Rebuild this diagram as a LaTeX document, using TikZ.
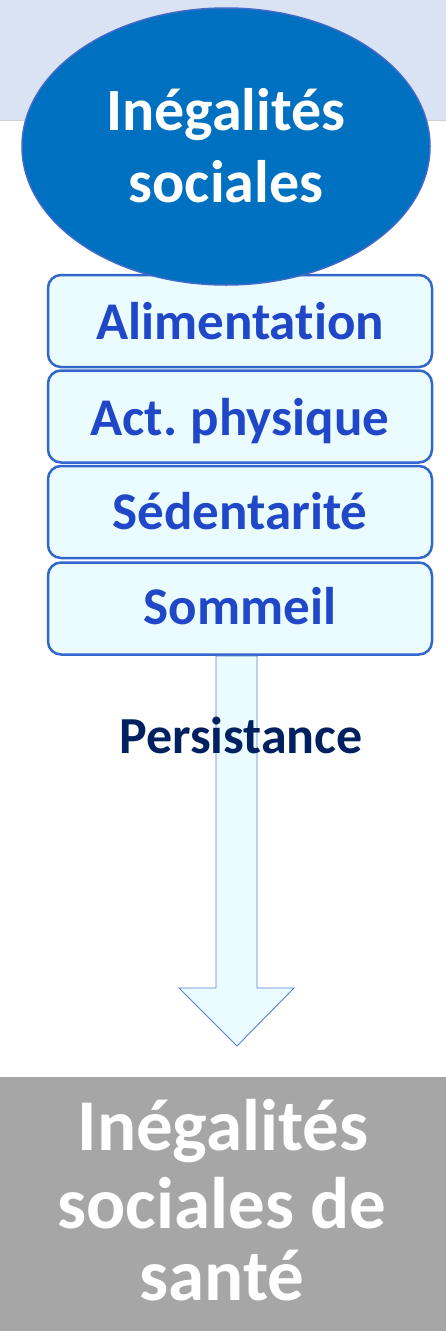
\documentclass[tikz,border=0pt]{standalone}
\usepackage{fontspec}
\setmainfont{Carlito}[Ligatures={NoCommon}]
\usetikzlibrary{shapes.geometric}
\definecolor{band}{HTML}{DAE3F3}
\definecolor{ellfill}{HTML}{0070C0}
\definecolor{ellline}{HTML}{4169C8}
\definecolor{boxfill}{HTML}{EAFCFF}
\definecolor{boxline}{HTML}{3366CC}
\definecolor{boxtext}{HTML}{1F47C8}
\definecolor{navy}{HTML}{002060}
\definecolor{grayfill}{HTML}{A6A6A6}
\definecolor{arrline}{HTML}{5B80D0}
\tikzset{
  stackbox/.style={draw=boxline, line width=2.5pt, fill=boxfill, rounded corners=13pt,
    minimum width=384pt, minimum height=92pt, inner sep=0pt},
  boxlabel/.style={anchor=base, text=boxtext, font=\fontsize{53}{60}\selectfont\bfseries, inner sep=0pt},
  whitelabel/.style={anchor=base, text=white, inner sep=0pt},
}
\begin{document}
\begin{tikzpicture}[x=1pt,y=-1pt]
\useasboundingbox (0,0) rectangle (446,1331);
% top band
\fill[band] (0,0) rectangle (446,120);
\draw[color=black!18, line width=0.8pt] (0,120) -- (446,120);
% stacked boxes
\node[stackbox] (b1) at (240,321) {};
\node[stackbox] (b2) at (240,416.5) {};
\node[stackbox] (b3) at (240,512) {};
\node[stackbox] (b4) at (240,608.5) {};
\node[boxlabel] (t1) at (240,339) {Alimentation};
\node[boxlabel] (t2) at (240,435) {Act.\hspace{-0.05em} physique};
\node[boxlabel] (t3) at (240,529) {Sédentarité};
\node[boxlabel] (t4) at (240,624) {Sommeil};
% ellipse
\node[ellipse, draw=ellline, line width=1.5pt, fill=ellfill, minimum width=408pt, minimum height=277pt, inner sep=0pt] (ell) at (226,146.5) {};
\node[whitelabel, font=\fontsize{60}{72}\selectfont\bfseries] (e1) at (226,130) {Inégalités};
\node[whitelabel, font=\fontsize{60}{72}\selectfont\bfseries] (e2) at (226,202) {sociales};
% arrow
\draw[draw=arrline, line width=0.9pt, fill=boxfill, line join=miter]
  (216,656) -- (257,656) -- (257,988) -- (294,988) -- (237,1046) -- (179,988) -- (216,988) -- cycle;
\node[anchor=base, text=navy, font=\fontsize{52}{60}\selectfont\bfseries, inner sep=0pt] (pers) at (241,753) {Persistance};
% bottom box
\node[fill=grayfill, minimum width=446pt, minimum height=254pt, inner sep=0pt, anchor=north west] (res) at (0,1077) {};
\node[whitelabel, font=\fontsize{73}{76}\selectfont\bfseries] (r1) at (223,1150) {Inégalités};
\node[whitelabel, font=\fontsize{73}{76}\selectfont\bfseries] (r2) at (222,1228) {sociales de};
\node[whitelabel, font=\fontsize{73}{76}\selectfont\bfseries] (r3) at (222,1300) {santé};
\end{tikzpicture}
\end{document}
